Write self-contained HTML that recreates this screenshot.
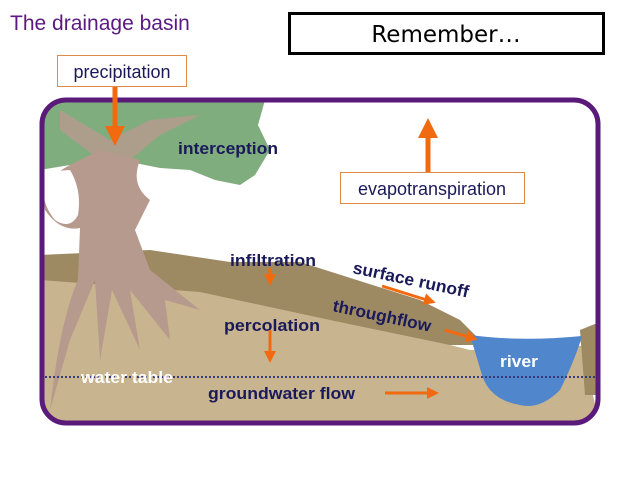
<!DOCTYPE html>
<html><head><style>
body{margin:0;width:638px;height:479px;background:#fff;overflow:hidden;font-family:"Liberation Sans",sans-serif}
</style></head><body>
<svg width="638" height="479" viewBox="0 0 638 479" xmlns="http://www.w3.org/2000/svg" font-family="Liberation Sans, sans-serif">
<defs><clipPath id="c"><rect x="42" y="100" width="556" height="323" rx="24"/></clipPath>
<marker id="a" markerWidth="4" markerHeight="4" refX="2" refY="2" orient="auto" markerUnits="strokeWidth"><path d="M0,0L4,2L0,4z" fill="#f26a10"/></marker></defs>
<text x="10" y="30" font-size="21" fill="#5a1a80">The drainage basin</text>
<rect x="289.5" y="13.5" width="314" height="40" fill="#fff" stroke="#000" stroke-width="3"/>
<text x="446" y="42" font-size="23" text-anchor="middle" font-family="DejaVu Sans, sans-serif">Remember…</text>
<g clip-path="url(#c)">
<path d="M40,255 L150,250 L230,262 L300,262 L420,300 L460,320 L478,338 L475,345 L40,345Z" fill="#9e8a62"/>
<path d="M40,280 L200,292 L330,320 L450,345 L470,350 L600,345 L600,330 L585,330 L580,340 L600,425 L40,425Z" fill="#c8b48e"/>
<path d="M580,330 L600,322 L600,395 L585,395Z" fill="#9e8a62"/>
<path d="M470,335 Q520,342 582,336 Q575,360 560,390 Q540,410 520,405 Q490,400 482,375 Z" fill="#4f86cc"/>
<path d="M40,100 L265,100 L258,125 L270,150 L255,175 L240,185 L215,180 L190,170 L160,168 L120,160 L70,165 L40,170Z" fill="#80ad7e"/>
<path d="M60,110 L110,140 L150,120 L200,115 L160,135 L130,160 L100,160 L60,130Z" fill="#b89a8f" opacity="0.8"/>
<path d="M70,165 Q40,180 45,210 Q60,232 80,228 L78,280 Q60,320 50,410 L70,340 L95,280 L100,360 L112,290 L140,350 L130,290 L170,340 L165,300 L200,310 L150,270 L135,230 L150,200 Q130,185 140,160 L100,150 Z" fill="#b79a8e"/>
<path d="M45,172 Q38,200 55,220 Q70,230 78,215 Q82,190 70,170Z" fill="#fff"/>
</g>
<rect x="42" y="100" width="556" height="323" rx="24" fill="none" stroke="#5a1a7a" stroke-width="5"/>
<line x1="45" y1="377" x2="595" y2="377" stroke="#3a3a7a" stroke-width="2" stroke-dasharray="2,2"/>
<rect x="57.5" y="55.5" width="129" height="31" fill="#fff" stroke="#e08a4a"/>
<text x="122" y="78" font-size="18" fill="#1a1a5a" text-anchor="middle">precipitation</text>
<line x1="115" y1="87" x2="115" y2="136" stroke="#f26a10" stroke-width="5" marker-end="url(#a)"/>
<rect x="340.5" y="172.5" width="184" height="31" fill="#fff" stroke="#e08a4a"/>
<text x="432" y="195" font-size="18" fill="#1a1a5a" text-anchor="middle">evapotranspiration</text>
<line x1="428" y1="172" x2="428" y2="128" stroke="#f26a10" stroke-width="5" marker-end="url(#a)"/>
<g font-weight="bold" font-size="17" fill="#1a1a5a">
<text x="178" y="154" textLength="100" lengthAdjust="spacingAndGlyphs">interception</text>
<text x="230" y="266" textLength="86" lengthAdjust="spacingAndGlyphs">infiltration</text>
<text x="352" y="273" transform="rotate(12 352 273)" textLength="118" lengthAdjust="spacingAndGlyphs">surface runoff</text>
<text x="332" y="311" transform="rotate(12 332 311)" textLength="100" lengthAdjust="spacingAndGlyphs">throughflow</text>
<text x="224" y="331" textLength="96" lengthAdjust="spacingAndGlyphs">percolation</text>
<text x="208" y="399" textLength="147" lengthAdjust="spacingAndGlyphs">groundwater flow</text>
<text x="500" y="367" fill="#fff" textLength="38" lengthAdjust="spacingAndGlyphs">river</text>
<text x="81" y="383" fill="#fff" textLength="92" lengthAdjust="spacingAndGlyphs">water table</text>
</g>
<g stroke="#f26a10" stroke-width="3">
<line x1="270" y1="268" x2="270" y2="280" marker-end="url(#a)"/>
<line x1="382" y1="286" x2="430" y2="301" marker-end="url(#a)"/>
<line x1="445" y1="330" x2="472" y2="338" marker-end="url(#a)"/>
<line x1="270" y1="330" x2="270" y2="357" marker-end="url(#a)"/>
<line x1="385" y1="393" x2="433" y2="393" marker-end="url(#a)"/>
</g>
</svg>
</body></html>
